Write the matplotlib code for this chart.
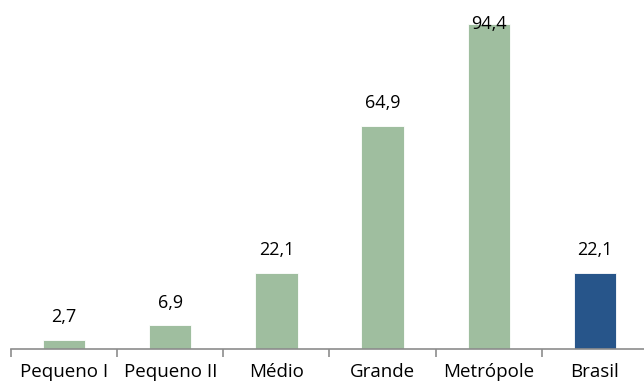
import matplotlib
matplotlib.use("Agg")
import matplotlib.pyplot as plt

categories = ["Pequeno I", "Pequeno II", "Médio", "Grande", "Metrópole", "Brasil"]
values = [2.7, 6.9, 22.1, 64.9, 94.4, 22.1]
colors = ["#9fbe9f"] * 5 + ["#27558a"]

plt.rcParams["font.family"] = ["Open Sans", "DejaVu Sans"]

fig = plt.figure(figsize=(6.44, 3.85), dpi=100)
ax = fig.add_axes([11 / 644, 36 / 385, 637 / 644, 349 / 385])

x = list(range(len(categories)))
ax.bar(x, values, width=0.4, color=colors, edgecolor="white", linewidth=0.6)

ymax = 101.4
ax.set_ylim(0, ymax)
ax.set_xlim(-0.5, len(categories) - 0.5)

for xi, v in zip(x, values):
    y = min(v + 6.6, ymax - 7.0)
    ax.text(xi, y, f"{v:.1f}".replace(".", ","), ha="center", va="center",
            fontsize=13, color="black")

for side in ("top", "right", "left"):
    ax.spines[side].set_visible(False)
ax.spines["bottom"].set_color("#8c8c8c")
ax.spines["bottom"].set_linewidth(1.2)
ax.set_yticks([])

ax.set_xticks([i - 0.5 for i in range(len(categories) + 1)])
ax.set_xticklabels([])
ax.set_xticks(x, minor=True)
ax.set_xticklabels(categories, minor=True, fontsize=13.5)
ax.tick_params(axis="x", which="major", length=6, width=1.2, color="#8c8c8c")
ax.tick_params(axis="x", which="minor", length=0, pad=10)

fig.savefig("out.png", dpi=100)
